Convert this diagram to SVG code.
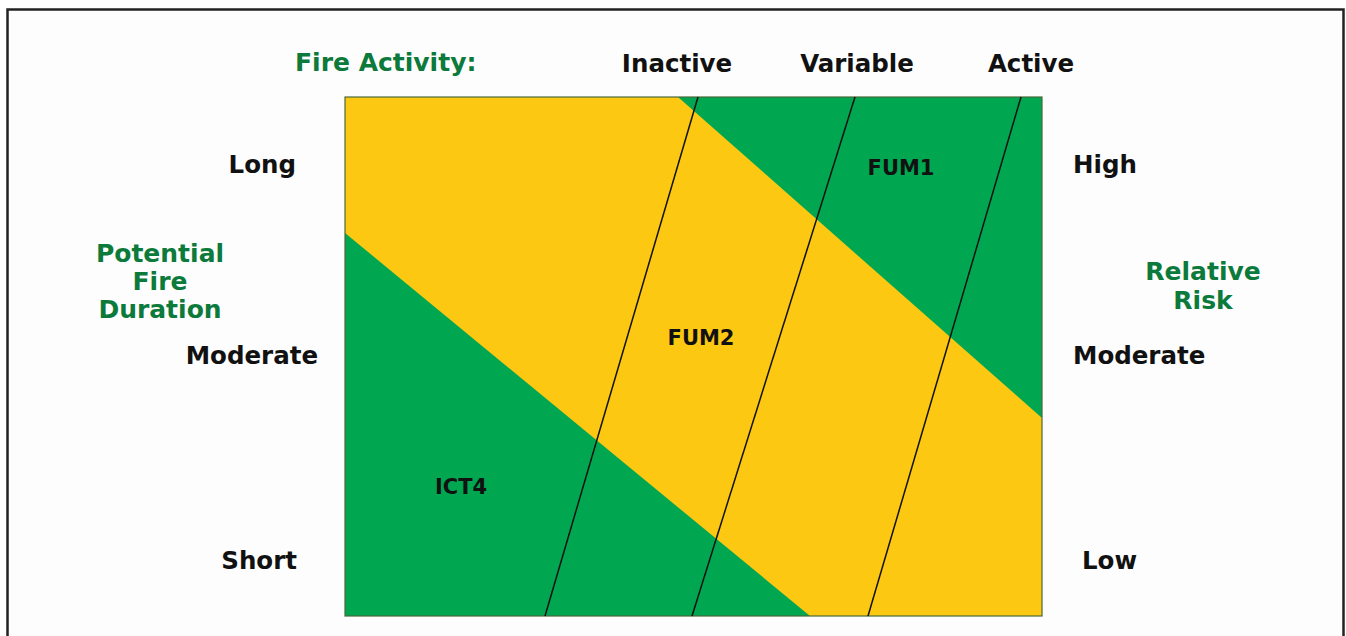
<svg xmlns="http://www.w3.org/2000/svg" width="1346" height="636" viewBox="0 0 1346 636">
<style>
  .lbl { font-family: "DejaVu Sans", Verdana, sans-serif; font-weight: bold; fill: #111; font-size: 24.5px; }
  .glbl { font-family: "DejaVu Sans", Verdana, sans-serif; font-weight: bold; fill: #0B7A3B; font-size: 25px; }
  .zone { font-family: "DejaVu Sans", Verdana, sans-serif; font-weight: bold; fill: #111; font-size: 21px; text-anchor: middle; }
  .div { stroke: #111; stroke-width: 1.5; fill: none; }
  .green { fill: #00A650; }
</style>
<rect x="0" y="0" width="1346" height="636" fill="#ffffff"/>
<rect x="7.5" y="9.5" width="1336" height="640" fill="#fdfdfd" stroke="#222" stroke-width="2.5"/>

<g id="chart">
  <rect x="345" y="97" width="697" height="519" fill="#FCC812"/>
  <polygon class="green" points="678,97 1042,97 1042,418"/>
  <polygon class="green" points="345,233 345,616 810,616"/>
  <rect x="345" y="97" width="697" height="519" fill="none" stroke="#4a6a3a" stroke-width="1.2"/>
</g>

<g id="connectors">
  <line class="div" x1="698" y1="97" x2="545" y2="616"/>
  <line class="div" x1="855" y1="97" x2="692" y2="616"/>
  <line class="div" x1="1021" y1="97" x2="868" y2="616"/>
</g>

<g id="header">
  <text class="glbl" x="295" y="71" font-size="26">Fire Activity:</text>
</g>
<g id="inactive"><text class="lbl" x="677" y="72" text-anchor="middle">Inactive</text></g>
<g id="variable"><text class="lbl" x="857" y="72" text-anchor="middle">Variable</text></g>
<g id="active"><text class="lbl" x="1031" y="72" text-anchor="middle">Active</text></g>

<g id="duration-axis">
  <text class="glbl" x="160" y="262" text-anchor="middle">Potential</text>
  <text class="glbl" x="160" y="290" text-anchor="middle">Fire</text>
  <text class="glbl" x="160" y="318" text-anchor="middle">Duration</text>
</g>
<g id="long"><text class="lbl" x="296" y="173" text-anchor="end">Long</text></g>
<g id="moderate-left"><text class="lbl" x="318" y="364" text-anchor="end">Moderate</text></g>
<g id="short"><text class="lbl" x="297" y="569" text-anchor="end">Short</text></g>

<g id="risk-axis">
  <text class="glbl" x="1203" y="280" text-anchor="middle">Relative</text>
  <text class="glbl" x="1203" y="309" text-anchor="middle">Risk</text>
</g>
<g id="high"><text class="lbl" x="1073" y="173">High</text></g>
<g id="moderate-right"><text class="lbl" x="1073" y="364">Moderate</text></g>
<g id="low"><text class="lbl" x="1082" y="569">Low</text></g>

<g id="fum1"><text class="zone" x="901" y="175">FUM1</text></g>
<g id="fum2"><text class="zone" x="701" y="345">FUM2</text></g>
<g id="ict4"><text class="zone" x="461" y="494">ICT4</text></g>
</svg>
